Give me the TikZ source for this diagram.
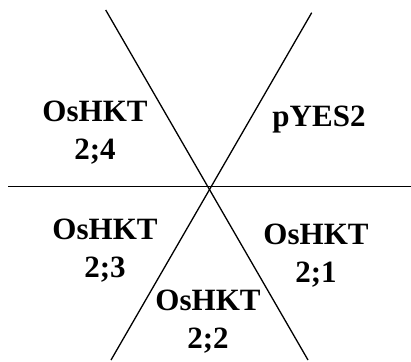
\documentclass[tikz,border=0pt]{standalone}
\usepackage{fontspec}
\setmainfont{Liberation Serif}
\begin{document}
\begin{tikzpicture}[x=1pt,y=-1pt,
  divider/.style={line width=1.3pt, black},
  sector/.style={font=\bfseries\fontsize{31}{38}\selectfont, align=center, inner sep=0pt}]
\useasboundingbox (0,0) rectangle (411,361);
% end points of the three dividing lines
\coordinate (hl) at (8,186.5);
\coordinate (hr) at (411,186.5);
\coordinate (at) at (105.7,10);
\coordinate (ab) at (308,360);
\coordinate (bt) at (311.7,12.7);
\coordinate (bb) at (111,360);
\draw[divider] (hl) -- (hr);
\draw[divider] (at) -- (ab);
\draw[divider] (bt) -- (bb);
% sector labels
\node[sector] (s24) at (95,133) {OsHKT\\2;4};
\node[sector] (pyes) at (319,120) {pYES2};
\node[sector] (s23) at (105,251) {OsHKT\\2;3};
\node[sector] (s21) at (316,256) {OsHKT\\2;1};
\node[sector] (s22) at (208,322) {OsHKT\\2;2};
\end{tikzpicture}
\end{document}
